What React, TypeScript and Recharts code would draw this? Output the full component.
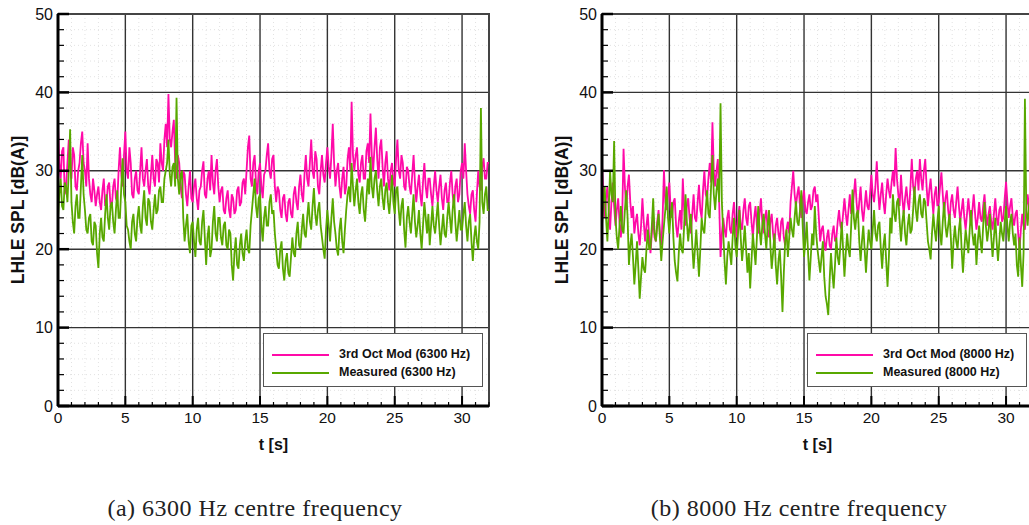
import { LineChart, Line, XAxis, YAxis, CartesianGrid, ReferenceArea, Label } from "recharts";

// Sampling step of the digitised traces (s). One per 0.1 s,
// one row of 20 values per 2 s.
const T_STEP = 0.1;

// (a) 6300 Hz
const MOD_6300 = [
  36, 31, 29, 32.5, 33, 27, 28, 31, 34, 30.5, 29, 33, 32, 28, 27.5, 30, 31, 33.5, 35, 31,
  30, 28, 33.5, 29, 27, 26, 29, 27.5, 25.5, 27, 28, 26, 25, 27.5, 29, 25.5, 26, 28, 28.5, 25.5,
  25.5, 28, 29, 26.5, 26, 30, 33, 29.5, 28, 32, 35, 30, 29, 33, 31, 27, 26.5, 29, 30, 27.5,
  27, 30, 33, 29, 28, 30, 31.5, 28, 27, 29.5, 32, 29, 28, 31.5, 31, 28.5, 33.5, 31, 30, 34,
  36, 33, 39.8, 34, 33, 35, 36.5, 31, 29, 32, 31, 28, 26.5, 30, 29.5, 27, 25.5, 28, 30, 26.5,
  26, 28, 29, 26.5, 25, 27.5, 28, 30, 31.2, 27, 26.5, 29, 30, 27.5, 32, 28.5, 27, 30, 31.5, 28,
  26, 27.5, 28, 25, 24.5, 26.5, 27.5, 25, 24, 27, 26.5, 24.5, 25, 27.5, 28, 25.5, 26, 28.5, 29, 27,
  30, 33, 34.5, 29, 28, 31, 32, 28.5, 27, 30, 31, 28, 26.5, 29.5, 30, 32, 33.5, 30, 29, 31.5,
  32, 28, 26, 28, 27.5, 25, 24, 26.5, 27, 24.5, 23.5, 26, 26.5, 24.5, 24, 27, 28, 26, 25, 28,
  29.5, 27, 26, 29.5, 32, 29, 28, 31, 34, 30, 29, 32.5, 31.5, 28, 27, 30, 32, 29.5, 28.5, 31,
  33, 30.5, 29, 32, 36, 31, 28, 30, 31, 28, 26.5, 29, 30.5, 27, 28, 31.5, 33, 30, 38.8, 32,
  30, 32, 33, 29.5, 28.5, 31, 32, 29, 29, 32.5, 33.5, 31, 37.3, 32, 30, 33, 35.5, 31.5, 29, 33,
  34, 30.5, 28, 31, 32.5, 29, 27.5, 30, 31, 28.5, 28, 31.5, 34, 30, 29, 32, 31, 28, 27.5, 30.5,
  30, 28, 27, 29.5, 32, 28.5, 26, 28, 29.5, 27, 25.5, 28.5, 31, 28, 26.5, 29, 29, 27, 25.5, 28,
  30, 27.5, 26, 28, 29.5, 26.5, 25, 27.5, 28.5, 26, 26, 28.5, 30, 27, 25.5, 28, 29, 26, 27, 30,
  31, 29, 33.5, 30, 27, 25.5, 24.5, 27, 27.5, 25, 23.5, 27, 30, 28, 27.5, 30.5, 31.6, 29, 29, 31,
  31,
];
const MEAS_6300 = [
  24, 27, 29, 25.5, 25, 28.5, 28, 26, 30, 35.3, 26, 23.5, 22, 25.5, 27, 24, 24, 28, 32, 27,
  25, 22.5, 22, 24, 24.5, 21, 20.5, 23.5, 23, 19.5, 17.6, 22, 24, 21.5, 21, 24.5, 27, 24, 22.5, 25.5,
  26, 23.5, 22, 25, 27.5, 24, 24, 28, 31.6, 27, 26, 23, 22.5, 21, 20, 23.5, 24.5, 22, 21, 24,
  25.5, 23, 22, 25.5, 27.5, 24, 23, 26.5, 26, 23.5, 22.5, 25, 27, 24.5, 25, 27.5, 28, 26, 26, 29,
  30, 31, 34, 29.5, 28, 30.5, 31, 28, 39.3, 29, 27, 29.5, 30, 24, 21, 23, 24.5, 21, 19.5, 23,
  23.5, 21, 19, 22.5, 24, 21, 20.5, 23.5, 25, 21.5, 18, 21.5, 23, 19, 20, 23.5, 25.5, 22, 21, 24,
  24, 21.5, 20.5, 23, 23.5, 20.5, 20, 22.5, 22, 18, 16, 19.5, 21.5, 18, 17.5, 20.5, 22, 19.5, 18.5, 21,
  22.5, 20, 19.5, 23, 25, 27, 29, 25.5, 24, 26.5, 27, 23, 21, 24, 25.5, 23, 23, 26, 27, 24.5,
  25, 22, 20, 18, 17.5, 20, 21, 17.5, 16, 18.5, 19.5, 17, 16.5, 19, 21.5, 19.5, 19, 22, 23.5, 20.5,
  20, 22.5, 24.5, 22, 21.5, 24, 26, 23.5, 22.5, 25.5, 27.8, 24.5, 23, 25, 26, 23, 21.5, 20, 18.8, 22.5,
  25, 23, 21, 24, 26.5, 23.5, 22, 20, 19.2, 22.5, 24, 21, 19.5, 22.5, 25, 27, 28, 26, 31, 28,
  25.5, 27.5, 29, 26, 24.5, 27, 28, 25, 23.5, 26.5, 29, 27, 31.8, 28, 26.5, 29, 30, 27.5, 25.5, 28,
  29, 26.5, 25, 27.5, 28.5, 26, 24.5, 27, 29.5, 26, 24.5, 27.5, 28, 25, 23, 25.5, 26.5, 22.5, 20.2, 24,
  25.5, 23.5, 22, 24.5, 27, 23.5, 21.5, 23, 25, 22, 20, 23, 26, 24, 22, 24.5, 20.5, 23, 25.5, 23,
  22, 24, 26, 23, 20.5, 22.5, 24.5, 22, 21.5, 24, 26, 24, 22, 25, 27, 23.5, 21, 23, 25, 22.5,
  22.5, 24.5, 26, 23, 21, 23.5, 24.5, 21, 18.5, 21.5, 23, 21, 20, 23.5, 38, 26, 24.5, 27, 28, 25,
  25,
];

// (b) 8000 Hz
const MOD_8000 = [
  31, 27, 24, 26.5, 28, 25, 22.5, 26, 28.5, 25.5, 23, 25, 26.5, 23.5, 21.5, 24, 32.8, 28, 25, 28,
  29.5, 26, 24, 25.5, 22, 23.5, 24.5, 22, 20.5, 23, 26.5, 23.5, 21, 23, 24.5, 21.5, 19.5, 22, 24, 21.5,
  21, 23.5, 25, 22, 20.5, 24, 30.1, 26, 25, 27, 28.5, 25, 24, 26, 26.5, 23, 21.5, 23.5, 25, 22.5,
  29, 25, 23, 25.5, 26.5, 24, 22, 24.5, 27, 24, 23.5, 26, 28.2, 25, 24, 27.5, 30, 27, 26.5, 29,
  31, 28.5, 36.2, 30, 28, 30, 31.5, 26, 19, 22, 24, 22.5, 21.5, 24, 25, 22.5, 22, 24.5, 26, 23,
  21.5, 24, 25.5, 23, 22.5, 25, 26.5, 24, 23, 25.5, 26, 23.5, 21.5, 24, 25.5, 23, 22, 24.5, 26.5, 23.5,
  22, 24, 25, 22.5, 21.5, 23.5, 24.5, 22, 20.5, 23, 24, 22, 21, 23.5, 24, 21.5, 20.5, 22.5, 23.5, 22,
  26, 28, 30, 27, 25.5, 27, 28, 25.5, 24, 26.5, 27.5, 25, 24.5, 26, 27, 25, 25.5, 27.5, 28, 26,
  27, 24, 21, 22.5, 23, 21, 19.8, 21.5, 22.5, 20.5, 20, 22, 23, 21, 21.5, 23.5, 25, 23, 22.5, 24.5,
  26.5, 24.5, 23, 25, 27, 24.5, 25, 27, 29, 26, 24, 26, 28, 25, 23.5, 25.5, 27.5, 25.5, 25, 27,
  29.5, 27, 26, 28, 31.2, 27.5, 25, 27, 28.5, 26, 24.5, 27, 29, 27.5, 26.5, 28.5, 30, 28, 32.9, 29,
  27, 25.5, 29.5, 26.5, 24.5, 26.5, 28, 26, 25, 28, 31.5, 28, 27, 29, 30, 27.5, 31.5, 29, 27.5, 30,
  31.5, 28, 25.5, 27.5, 29, 26.5, 24.5, 27, 28, 25.5, 26, 28, 29.8, 27, 24.5, 26.5, 27.5, 25, 23.5, 26,
  27, 25, 24, 26, 28, 25.5, 23.5, 25, 26.5, 24, 22.5, 24.5, 26.5, 24.5, 23, 25, 27, 24.5, 22.5, 24,
  26, 24, 23.5, 25.5, 27, 24.5, 23, 24.5, 25.5, 23.5, 22.5, 24.5, 26.5, 24, 23, 25, 25.5, 23.5, 24, 26.5,
  28.6, 26, 24, 25.5, 26.5, 24, 23, 24.5, 25, 22, 20, 22.5, 24.5, 23, 22.5, 25, 27, 25.5, 25, 27,
  26.5,
];
const MEAS_8000 = [
  23, 26, 28, 24, 21, 25, 30, 27, 26, 33.8, 24, 21.5, 20, 23, 25.5, 22.5, 22, 25, 27.5, 24,
  18, 20.5, 22, 19, 15.5, 18, 21, 17.5, 13.7, 16.5, 19, 17.5, 17, 20, 22.5, 20, 20, 23, 26.5, 22,
  21, 23, 24.5, 21.5, 18.5, 21, 23, 25, 28, 24, 22, 24.5, 26, 21.5, 18.5, 17, 15.9, 19.5, 22, 20,
  19.5, 23, 27, 23.5, 21, 23, 24.5, 20.5, 17.5, 20, 22.5, 19.5, 16.5, 20, 24, 22.5, 22, 25, 27.5, 24.5,
  24, 28, 32, 27, 25, 27.5, 29, 26, 38.6, 26, 22, 18.5, 15.5, 19, 21, 19.5, 18, 21.5, 24, 20.5,
  19, 22, 25, 21.5, 18.5, 20.5, 23, 20, 17, 19.5, 15, 18.5, 22, 20, 18, 21.5, 25.5, 22.5, 20.5, 23,
  24.5, 22, 20, 23, 25, 20.5, 17.5, 19.5, 22, 18, 15.5, 18.5, 20, 16.5, 12, 17, 21, 22.5, 19, 21.5,
  24, 22.5, 21.5, 24, 26.1, 23.5, 23, 25, 27.5, 23, 19, 21, 23.5, 19.5, 16, 19, 22, 20.5, 25.5, 22,
  20, 18.5, 17, 19, 21, 16.5, 14, 13, 11.6, 16, 19.5, 17, 15, 18, 21.5, 19, 18, 20.5, 23.5, 20,
  16.5, 19.5, 22, 20, 19, 23, 27.6, 24, 22.5, 24.5, 25, 21, 18.5, 21, 23, 20, 17, 20, 22.5, 21,
  20, 22.5, 25, 22, 21, 23, 23.5, 20, 17.5, 20.5, 22, 18.5, 15.2, 19, 24, 22, 27, 24.5, 23.5, 26,
  26.5, 23.5, 21, 23.5, 25, 22, 20.5, 23, 24.5, 22, 22.5, 25, 28, 25, 23.5, 26, 27, 24.5, 24, 26.5,
  26, 23.5, 21, 20, 18.7, 22, 24.5, 22.5, 21, 23.5, 25.5, 22, 20.5, 23.5, 26, 23, 21.5, 23, 24.5, 21.5,
  17.5, 21, 23, 21, 20, 22.5, 24, 20, 17, 20, 22.5, 21, 19.5, 22.5, 25, 22, 20.5, 22, 18, 21,
  23, 21, 19.5, 23, 26, 23, 21, 22.5, 24.5, 21.5, 19, 21.5, 24, 21, 18.5, 21, 23.5, 22, 21, 23.5,
  25.5, 23, 21, 23.5, 24.5, 22, 20.5, 22, 18, 16.5, 21.5, 18, 15.2, 19.5, 39.2, 25, 23, 25.5, 26.5, 23.5,
  24,
];

const X_TICKS = [0, 1, 2, 3, 4, 5, 6, 7, 8, 9, 10, 11, 12, 13, 14, 15, 16, 17, 18, 19, 20, 21, 22, 23, 24, 25, 26, 27, 28, 29, 30, 31, 32];
const Y_TICKS = [0, 2, 4, 6, 8, 10, 12, 14, 16, 18, 20, 22, 24, 26, 28, 30, 32, 34, 36, 38, 40, 42, 44, 46, 48, 50];
const X_MAJOR = [5, 10, 15, 20, 25, 30];
const Y_MAJOR = [10, 20, 30, 40];
const X_MINOR = X_TICKS.filter((v) => v % 5 !== 0);
const Y_MINOR = Y_TICKS.filter((v) => v % 10 !== 0);

const PINK = "#ff0aa8";
const GREEN = "#58a800";

const CHART_W = 500;
const CHART_H = 460;
const PLOT_LEFT = 58;
const PLOT_TOP = 14;
const PLOT_W = 431;
const X_AXIS_H = 54;
const PLOT_BOTTOM = CHART_H - X_AXIS_H;
const SANS = "'Liberation Sans', Arial, Helvetica, sans-serif";

function XTick(props: any) {
  const { x, payload } = props;
  const v = payload.value as number;
  const major = v % 5 === 0;
  return (
    <g>
      <line x1={x} x2={x} y1={PLOT_BOTTOM} y2={PLOT_BOTTOM - (major ? 10 : 4)} stroke="#000" strokeWidth={major ? 2 : 1.2} />
      {major && v <= 30 && (
        <text x={x} y={PLOT_BOTTOM + 16.5} textAnchor="middle" fontSize={15.5} fill="#111" fontFamily={SANS}>
          {v}
        </text>
      )}
    </g>
  );
}

function YTick(props: any) {
  const { y, payload } = props;
  const v = payload.value as number;
  const major = v % 10 === 0;
  return (
    <g>
      <line x1={PLOT_LEFT} x2={PLOT_LEFT + (major ? 11 : 6)} y1={y} y2={y} stroke="#000" strokeWidth={major ? 2.5 : 1.2} />
      {major && (
        <text x={PLOT_LEFT - 5} y={y + 5.5} textAnchor="end" fontSize={16} fill="#111" fontFamily={SANS}>
          {v}
        </text>
      )}
    </g>
  );
}

function Panel({ mod, meas, freq, left, caption }: { mod: number[]; meas: number[]; freq: string; left: number; caption: string }) {
  const rows = mod.map((m, i) => ({ t: +(i * T_STEP).toFixed(2), mod: m, meas: meas[i] }));
  const modName = `3rd Oct Mod (${freq} Hz)`;
  const measName = `Measured (${freq} Hz)`;
  return (
    <div style={{ position: "absolute", left, top: 0, width: CHART_W, height: 525 }}>
      <LineChart width={CHART_W} height={CHART_H} data={rows} margin={{ top: PLOT_TOP, right: CHART_W - PLOT_LEFT - PLOT_W, bottom: 0, left: 0 }}>
        <CartesianGrid horizontalValues={Y_MINOR} verticalValues={X_MINOR} stroke="#e2e2e2" strokeDasharray="1 3" />
        <CartesianGrid horizontalValues={Y_MAJOR} verticalValues={X_MAJOR} stroke="#333" strokeWidth={1.4} />
        <XAxis
          dataKey="t"
          type="number"
          domain={[0, 32]}
          ticks={X_TICKS}
          interval={0}
          height={X_AXIS_H}
          tickLine={false}
          axisLine={{ stroke: "#000", strokeWidth: 3 }}
          tick={<XTick />}
        >
          <Label value="t [s]" position="insideBottom" offset={10} style={{ fontFamily: SANS, fontSize: 16, fontWeight: "bold", fill: "#111" }} />
        </XAxis>
        <YAxis
          type="number"
          domain={[0, 50]}
          ticks={Y_TICKS}
          interval={0}
          width={PLOT_LEFT}
          tickLine={false}
          axisLine={{ stroke: "#000", strokeWidth: 3 }}
          tick={<YTick />}
        >
          <Label value="LHLE SPL [dB(A)]" angle={-90} position="insideLeft" offset={18} style={{ textAnchor: "middle", fontFamily: SANS, fontSize: 17.5, fontWeight: "bold", fill: "#111" }} />
        </YAxis>
        <ReferenceArea x1={0} x2={32} y1={0} y2={50} fill="none" stroke="#444" strokeWidth={2} />
        <Line dataKey="mod" name={modName} stroke={PINK} strokeWidth={1.8} dot={false} isAnimationActive={false} />
        <Line dataKey="meas" name={measName} stroke={GREEN} strokeWidth={1.8} dot={false} isAnimationActive={false} />
      </LineChart>
      <div
        style={{
          position: "absolute",
          left: 263,
          top: 333,
          width: 220,
          height: 54,
          boxSizing: "border-box",
          border: "1.5px solid #555",
          background: "#fff",
          fontFamily: SANS,
          fontSize: 12.5,
          fontWeight: "bold",
          color: "#111",
        }}
      >
        {[
          { name: modName, color: PINK, y: 21 },
          { name: measName, color: GREEN, y: 39 },
        ].map((it) => (
          <div key={it.name}>
            <div style={{ position: "absolute", left: 8, top: it.y - 1, width: 57, height: 1.5, background: it.color }} />
            <div style={{ position: "absolute", left: 75, top: it.y - 8, whiteSpace: "nowrap", lineHeight: "15px" }}>{it.name}</div>
          </div>
        ))}
      </div>
      <div
        style={{
          position: "absolute",
          left: 0,
          width: 510,
          top: 495,
          textAlign: "center",
          fontFamily: "'Liberation Serif', 'Times New Roman', serif",
          fontSize: 24,
          letterSpacing: 0.5,
          color: "#222",
          whiteSpace: "nowrap",
        }}
      >
        {caption}
      </div>
    </div>
  );
}

export default function App() {
  return (
    <div style={{ position: "fixed", left: 0, top: 0, width: 1029, height: 525, overflow: "hidden", background: "#fff" }}>
      <Panel mod={MOD_6300} meas={MEAS_6300} freq="6300" left={0} caption="(a) 6300 Hz centre frequency" />
      <Panel mod={MOD_8000} meas={MEAS_8000} freq="8000" left={544} caption="(b) 8000 Hz centre frequency" />
    </div>
  );
}
